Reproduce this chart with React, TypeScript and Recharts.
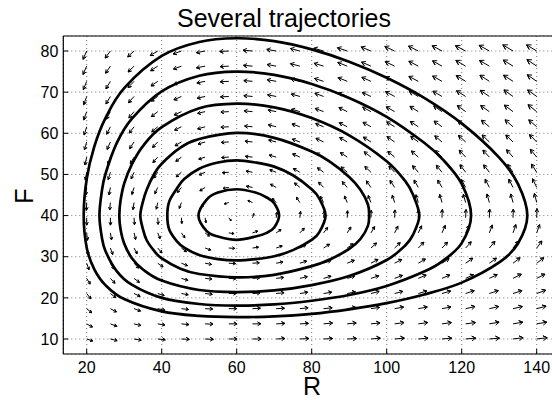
import { CartesianGrid, ComposedChart, Line, XAxis, YAxis } from "recharts";

const FONT = '"Liberation Sans", Arial, Helvetica, sans-serif';

const xTicks = [20, 40, 60, 80, 100, 120, 140];
const yTicks = [10, 20, 30, 40, 50, 60, 70, 80];

// quiver grid, R across and F up
const gridR = [20, 26.32, 32.63, 38.95, 45.26, 51.58, 57.89, 64.21, 70.53, 76.84, 83.16, 89.47, 95.79, 102.11, 108.42, 114.74, 121.05, 127.37, 133.68, 140];
const gridF = [10, 13.68, 17.37, 21.05, 24.74, 28.42, 32.11, 35.79, 39.47, 43.16, 46.84, 50.53, 54.21, 57.89, 61.58, 65.26, 68.95, 72.63, 76.32, 80];

// drawn arrow components (data units), one row per gridF value, bottom row first
const arrowDR = [
  [1.6, 1.8, 1.9, 2.0, 2.1, 2.2, 2.2, 2.3, 2.3, 2.4, 2.4, 2.5, 2.5, 2.6, 2.6, 2.6, 2.7, 2.7, 2.7, 2.8],
  [1.5, 1.7, 1.8, 1.9, 2.0, 2.1, 2.2, 2.2, 2.3, 2.3, 2.4, 2.4, 2.4, 2.5, 2.5, 2.5, 2.6, 2.6, 2.6, 2.7],
  [1.3, 1.6, 1.7, 1.9, 1.9, 2.0, 2.1, 2.1, 2.2, 2.2, 2.3, 2.3, 2.3, 2.4, 2.4, 2.4, 2.5, 2.5, 2.5, 2.5],
  [1.1, 1.4, 1.6, 1.7, 1.8, 1.9, 2.0, 2.0, 2.1, 2.1, 2.2, 2.2, 2.2, 2.2, 2.3, 2.3, 2.3, 2.4, 2.4, 2.4],
  [0.9, 1.2, 1.4, 1.6, 1.7, 1.8, 1.9, 1.9, 2.0, 2.0, 2.0, 2.0, 2.1, 2.1, 2.1, 2.1, 2.1, 2.1, 2.2, 2.2],
  [0.6, 0.9, 1.2, 1.4, 1.6, 1.7, 1.8, 1.8, 1.8, 1.8, 1.9, 1.9, 1.9, 1.9, 1.9, 1.9, 1.9, 1.9, 1.9, 1.9],
  [0.4, 0.6, 0.8, 1.1, 1.3, 1.5, 1.6, 1.6, 1.6, 1.6, 1.6, 1.6, 1.5, 1.5, 1.5, 1.5, 1.5, 1.5, 1.4, 1.4],
  [0.2, 0.3, 0.4, 0.6, 0.9, 1.1, 1.4, 1.4, 1.3, 1.2, 1.1, 1.0, 1.0, 0.9, 0.9, 0.9, 0.9, 0.8, 0.8, 0.8],
  [0.0, 0.0, 0.1, 0.1, 0.1, 0.2, 0.6, 0.4, 0.2, 0.2, 0.2, 0.1, 0.1, 0.1, 0.1, 0.1, 0.1, 0.1, 0.1, 0.1],
  [-0.1, -0.2, -0.3, -0.4, -0.6, -0.9, -1.2, -1.2, -1.0, -0.9, -0.8, -0.7, -0.7, -0.6, -0.6, -0.6, -0.6, -0.6, -0.6, -0.6],
  [-0.3, -0.4, -0.6, -0.8, -1.1, -1.4, -1.5, -1.6, -1.5, -1.4, -1.3, -1.3, -1.2, -1.2, -1.1, -1.1, -1.1, -1.1, -1.1, -1.1],
  [-0.4, -0.6, -0.8, -1.1, -1.4, -1.6, -1.7, -1.7, -1.7, -1.7, -1.6, -1.6, -1.6, -1.5, -1.5, -1.5, -1.5, -1.5, -1.4, -1.4],
  [-0.5, -0.7, -1.0, -1.3, -1.5, -1.7, -1.9, -1.9, -1.9, -1.9, -1.8, -1.8, -1.8, -1.8, -1.8, -1.7, -1.7, -1.7, -1.7, -1.7],
  [-0.6, -0.9, -1.2, -1.4, -1.7, -1.9, -2.0, -2.0, -2.0, -2.0, -2.0, -2.0, -2.0, -2.0, -2.0, -1.9, -1.9, -1.9, -1.9, -1.9],
  [-0.7, -1.0, -1.3, -1.6, -1.8, -2.0, -2.1, -2.1, -2.1, -2.1, -2.1, -2.1, -2.1, -2.1, -2.1, -2.1, -2.1, -2.1, -2.1, -2.1],
  [-0.8, -1.1, -1.4, -1.7, -1.9, -2.0, -2.1, -2.2, -2.2, -2.2, -2.2, -2.2, -2.2, -2.2, -2.2, -2.2, -2.2, -2.3, -2.3, -2.3],
  [-0.8, -1.2, -1.5, -1.8, -2.0, -2.1, -2.2, -2.3, -2.3, -2.3, -2.3, -2.3, -2.3, -2.4, -2.4, -2.4, -2.4, -2.4, -2.4, -2.4],
  [-0.9, -1.2, -1.6, -1.8, -2.0, -2.2, -2.3, -2.3, -2.4, -2.4, -2.4, -2.4, -2.4, -2.4, -2.5, -2.5, -2.5, -2.5, -2.5, -2.5],
  [-1.0, -1.3, -1.6, -1.9, -2.1, -2.3, -2.3, -2.4, -2.4, -2.5, -2.5, -2.5, -2.5, -2.5, -2.5, -2.5, -2.6, -2.6, -2.6, -2.6],
  [-1.0, -1.4, -1.7, -2.0, -2.2, -2.3, -2.4, -2.5, -2.5, -2.5, -2.6, -2.6, -2.6, -2.6, -2.6, -2.6, -2.7, -2.7, -2.7, -2.7],
];
const arrowDF = [
  [-0.5, -0.4, -0.3, -0.2, -0.1, -0.1, 0, 0, 0.1, 0.1, 0.1, 0.1, 0.2, 0.2, 0.2, 0.2, 0.2, 0.2, 0.3, 0.3],
  [-0.8, -0.6, -0.4, -0.3, -0.2, -0.1, 0, 0, 0.1, 0.1, 0.2, 0.2, 0.2, 0.3, 0.3, 0.3, 0.3, 0.4, 0.4, 0.4],
  [-1.0, -0.8, -0.6, -0.4, -0.2, -0.1, 0, 0.1, 0.1, 0.2, 0.2, 0.3, 0.3, 0.4, 0.4, 0.4, 0.5, 0.5, 0.5, 0.6],
  [-1.3, -1.0, -0.7, -0.5, -0.3, -0.2, 0, 0.1, 0.2, 0.3, 0.3, 0.4, 0.5, 0.5, 0.6, 0.6, 0.7, 0.7, 0.7, 0.8],
  [-1.4, -1.2, -1.0, -0.7, -0.5, -0.2, -0.1, 0.1, 0.2, 0.4, 0.5, 0.5, 0.6, 0.7, 0.8, 0.8, 0.9, 0.9, 1.0, 1.0],
  [-1.6, -1.4, -1.2, -0.9, -0.6, -0.3, -0.1, 0.1, 0.3, 0.5, 0.6, 0.7, 0.9, 0.9, 1.0, 1.1, 1.2, 1.2, 1.3, 1.3],
  [-1.7, -1.6, -1.4, -1.2, -0.9, -0.5, -0.1, 0.2, 0.5, 0.7, 0.9, 1.0, 1.2, 1.3, 1.4, 1.4, 1.5, 1.6, 1.6, 1.7],
  [-1.8, -1.7, -1.6, -1.4, -1.2, -0.8, -0.2, 0.4, 0.8, 1.1, 1.3, 1.4, 1.5, 1.6, 1.7, 1.8, 1.8, 1.9, 2.0, 2.0],
  [-1.8, -1.8, -1.7, -1.6, -1.4, -1.2, -0.7, 1.0, 1.3, 1.5, 1.6, 1.7, 1.8, 1.9, 1.9, 2.0, 2.0, 2.1, 2.1, 2.2],
  [-1.9, -1.8, -1.7, -1.6, -1.4, -1.0, -0.3, 0.5, 1.0, 1.3, 1.5, 1.6, 1.7, 1.8, 1.9, 2.0, 2.0, 2.1, 2.1, 2.2],
  [-1.9, -1.8, -1.7, -1.5, -1.2, -0.8, -0.2, 0.3, 0.8, 1.1, 1.3, 1.4, 1.6, 1.7, 1.8, 1.8, 1.9, 2.0, 2.0, 2.1],
  [-1.9, -1.8, -1.6, -1.4, -1.1, -0.6, -0.1, 0.3, 0.6, 0.9, 1.1, 1.3, 1.4, 1.5, 1.6, 1.7, 1.8, 1.8, 1.9, 2.0],
  [-1.9, -1.8, -1.6, -1.3, -1.0, -0.5, -0.1, 0.2, 0.5, 0.8, 1.0, 1.1, 1.3, 1.4, 1.5, 1.6, 1.7, 1.7, 1.8, 1.9],
  [-1.9, -1.8, -1.6, -1.3, -0.9, -0.5, -0.1, 0.2, 0.5, 0.7, 0.9, 1.1, 1.2, 1.3, 1.4, 1.5, 1.6, 1.7, 1.7, 1.8],
  [-2.0, -1.8, -1.5, -1.2, -0.8, -0.5, -0.1, 0.2, 0.5, 0.7, 0.8, 1.0, 1.1, 1.2, 1.3, 1.4, 1.5, 1.6, 1.7, 1.7],
  [-2.0, -1.8, -1.5, -1.2, -0.8, -0.4, -0.1, 0.2, 0.4, 0.6, 0.8, 1.0, 1.1, 1.2, 1.3, 1.4, 1.5, 1.5, 1.6, 1.7],
  [-2.0, -1.8, -1.5, -1.1, -0.8, -0.4, -0.1, 0.2, 0.4, 0.6, 0.8, 0.9, 1.0, 1.2, 1.3, 1.3, 1.4, 1.5, 1.6, 1.6],
  [-2.0, -1.8, -1.5, -1.1, -0.7, -0.4, -0.1, 0.2, 0.4, 0.6, 0.7, 0.9, 1.0, 1.1, 1.2, 1.3, 1.4, 1.5, 1.5, 1.6],
  [-2.0, -1.7, -1.4, -1.1, -0.7, -0.4, -0.1, 0.2, 0.4, 0.6, 0.7, 0.9, 1.0, 1.1, 1.2, 1.3, 1.4, 1.4, 1.5, 1.6],
  [-2.0, -1.7, -1.4, -1.1, -0.7, -0.4, -0.1, 0.2, 0.4, 0.6, 0.7, 0.8, 1.0, 1.1, 1.2, 1.3, 1.3, 1.4, 1.5, 1.5],
];

// closed trajectories as [R, F] points, innermost first
const orbit1 = [[60, 46.4], [65, 45.6], [68, 44.4], [70, 43.0], [71.3, 40], [70, 37.1], [68, 35.8], [65, 34.9], [60, 34.1], [55, 34.9], [52, 36.2], [49.8, 40], [52, 43.9], [55, 45.6]];
const orbit2 = [[60, 53.4], [65, 52.9], [70, 51.9], [75, 49.8], [80, 46.4], [82, 44.2], [83.7, 40], [82, 35.9], [80, 34.1], [75, 31.6], [70, 30.1], [65, 29.4], [60, 29.1], [55, 29.4], [50, 30.4], [46, 32.2], [44, 33.8], [42, 36.6], [41.5, 40], [42, 43.4], [44, 46.5], [46, 48.9], [50, 51.4], [55, 52.9]];
const orbit3 = [[60, 60.1], [70, 58.9], [80, 55.6], [85, 53.0], [90, 49.4], [93, 46.3], [95, 42.7], [95.3, 40], [95, 37.5], [93, 34.3], [90, 31.9], [85, 29.4], [80, 27.7], [70, 25.6], [60, 25.0], [50, 25.8], [45, 27.1], [40, 29.6], [38, 31.4], [36, 34.0], [35, 36.7], [34.3, 40], [35, 43.4], [36, 46.3], [38, 50.1], [40, 52.6], [45, 56.5], [50, 58.6]];
const orbit4 = [[60, 67.2], [70, 66.3], [80, 63.7], [90, 59.5], [100, 53.2], [105, 48.3], [107, 45.1], [108.7, 40], [107, 35.3], [105, 32.8], [100, 29.2], [90, 25.3], [80, 23.1], [70, 21.8], [60, 21.4], [50, 21.9], [40, 24.2], [35, 26.9], [32, 29.7], [30, 33.2], [29, 36.8], [28.7, 40], [29, 43.5], [30, 47.8], [32, 52.4], [35, 56.9], [40, 61.5], [50, 66.1]];
const orbit5 = [[60, 75.0], [70, 74.2], [80, 72.0], [90, 68.6], [100, 64.0], [110, 57.7], [115, 53.6], [120, 47.7], [122.5, 40], [120, 33.3], [115, 29.0], [110, 26.4], [100, 22.9], [90, 20.7], [80, 19.3], [70, 18.4], [60, 18.1], [50, 18.5], [40, 20.0], [32, 23.2], [28, 26.5], [25, 31.4], [24, 34.9], [23.4, 40], [24, 45.7], [25, 50.1], [28, 57.6], [32, 63.5], [40, 70.2], [50, 74.0]];
const orbit6 = [[60, 83.1], [70, 82.4], [80, 80.4], [90, 77.4], [100, 73.5], [110, 68.6], [120, 62.4], [130, 54.1], [135, 47.7], [137.5, 40], [135, 33.2], [130, 28.6], [120, 23.7], [110, 20.8], [100, 18.7], [90, 17.2], [80, 16.1], [70, 15.5], [60, 15.3], [50, 15.6], [40, 16.7], [30, 19.7], [25, 23.1], [22, 27.0], [20, 32.2], [19.2, 40], [20, 48.9], [22, 56.7], [25, 63.7], [30, 71.0], [40, 78.8], [50, 82.2]];

const orbits = [orbit1, orbit2, orbit3, orbit4, orbit5, orbit6];

type Pt = { x: number; y: number | null };

// one polyline per arrow (shaft + two barbs), separated by gaps
function quiverPoints(): Pt[] {
  const out: Pt[] = [];
  const a = 0.38;
  const b = 0.55;
  gridF.forEach((f, i) => {
    gridR.forEach((r, j) => {
      const u = arrowDR[i][j];
      const v = arrowDF[i][j];
      const tx = r + u;
      const ty = f + v;
      out.push(
        { x: r, y: f },
        { x: tx, y: ty },
        { x: tx - a * (u + b * v), y: ty - a * (v - b * u) },
        { x: tx, y: ty },
        { x: tx - a * (u - b * v), y: ty - a * (v + b * u) },
        { x: tx, y: null },
      );
    });
  });
  return out;
}

// closed Catmull-Rom curve through the points (d3 curve interface)
function closedSmooth(context: any) {
  let pts: number[][] = [];
  return {
    areaStart() {},
    areaEnd() {},
    lineStart() {
      pts = [];
    },
    point(x: number, y: number) {
      pts.push([+x, +y]);
    },
    lineEnd() {
      const n = pts.length;
      if (!n) return;
      context.moveTo(pts[0][0], pts[0][1]);
      for (let i = 0; i < n; i++) {
        const p0 = pts[(i - 1 + n) % n];
        const p1 = pts[i];
        const p2 = pts[(i + 1) % n];
        const p3 = pts[(i + 2) % n];
        context.bezierCurveTo(
          p1[0] + (p2[0] - p0[0]) / 6,
          p1[1] + (p2[1] - p0[1]) / 6,
          p2[0] - (p3[0] - p1[0]) / 6,
          p2[1] - (p3[1] - p1[1]) / 6,
          p2[0],
          p2[1],
        );
      }
      context.closePath();
    },
  };
}

const arrows = quiverPoints();
const orbitData = orbits.map((o) => o.map(([x, y]) => ({ x, y })));

const X_DOMAIN: [number, number] = [13.76, 146.48];
const Y_DOMAIN: [number, number] = [6.35, 83.65];
const tickStyle = { fill: "#000", fontSize: 16, fontFamily: FONT };

export default function App() {
  return (
    <div style={{ width: 552, height: 400, overflow: "hidden", background: "#fff" }}>
      <style>{"body{margin:0;overflow:hidden}"}</style>
      <ComposedChart width={561} height={400} margin={{ top: 0, right: 0, bottom: 0, left: 0 }}>
        <CartesianGrid stroke="#777" strokeDasharray="1 3" strokeWidth={1} />
        <XAxis
          type="number"
          dataKey="x"
          domain={X_DOMAIN}
          allowDataOverflow
          ticks={xTicks}
          interval={0}
          height={46}
          tickSize={-5}
          tickMargin={12.7}
          tick={tickStyle}
          axisLine={{ stroke: "#000", strokeWidth: 1.2 }}
          tickLine={{ stroke: "#000" }}
        />
        <XAxis
          xAxisId="top"
          orientation="top"
          type="number"
          dataKey="x"
          domain={X_DOMAIN}
          allowDataOverflow
          ticks={xTicks}
          interval={0}
          height={36}
          tickSize={-5}
          tick={false}
          axisLine={{ stroke: "#000", strokeWidth: 1.2 }}
          tickLine={{ stroke: "#000" }}
        />
        <YAxis
          type="number"
          domain={Y_DOMAIN}
          allowDataOverflow
          ticks={yTicks}
          interval={0}
          width={63.3}
          tickSize={-5}
          tickMargin={10}
          tick={tickStyle}
          axisLine={{ stroke: "#000", strokeWidth: 1.2 }}
          tickLine={{ stroke: "#000" }}
        />
        <Line
          data={arrows}
          dataKey="y"
          type="linear"
          stroke="#000"
          strokeWidth={1}
          dot={false}
          activeDot={false}
          isAnimationActive={false}
          legendType="none"
        />
        {orbitData.map((d, k) => (
          <Line
            key={k}
            data={d}
            dataKey="y"
            type={closedSmooth as any}
            stroke="#000"
            strokeWidth={2.7}
            strokeLinejoin="round"
            dot={false}
            activeDot={false}
            isAnimationActive={false}
            legendType="none"
          />
        ))}
        <text x={284} y={27} textAnchor="middle" fontSize={25} fontFamily={FONT} fill="#000">
          Several trajectories
        </text>
        <text x={312} y={395} textAnchor="middle" fontSize={25} fontFamily={FONT} fill="#000">
          R
        </text>
        <text
          x={33}
          y={196}
          transform="rotate(-90 33 196)"
          textAnchor="middle"
          fontSize={25}
          fontFamily={FONT}
          fill="#000"
        >
          F
        </text>
      </ComposedChart>
    </div>
  );
}
